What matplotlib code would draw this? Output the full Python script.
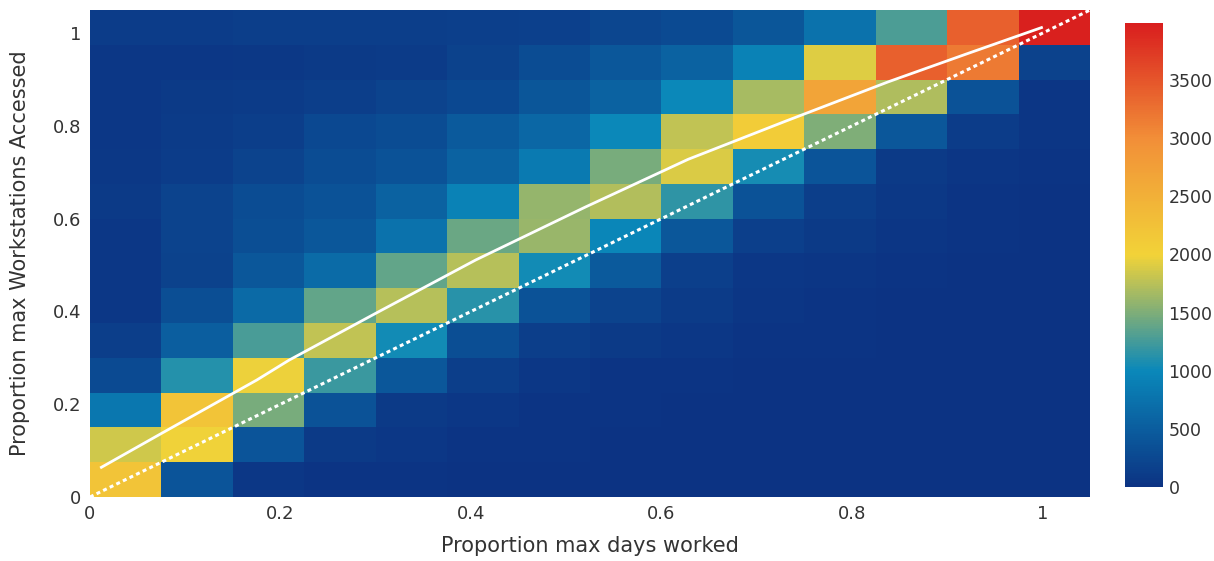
import numpy as np
import matplotlib.pyplot as plt
from matplotlib.colors import LinearSegmentedColormap

# bin edges (14 x 14 bins of width 0.075)
x_edges = np.arange(15) * 0.075
y_edges = np.arange(15) * 0.075

# counts per cell, rows from bottom (y bin 0) to top, columns x bin 0..13
row00 = [2215, 400, 60, 30, 20, 15, 10, 10, 10, 10, 10, 10, 10, 10]
row01 = [1849, 1980, 400, 80, 50, 30, 20, 15, 10, 10, 10, 10, 10, 10]
row02 = [810, 2215, 1468, 364, 82, 50, 30, 20, 15, 10, 10, 10, 10, 10]
row03 = [270, 1110, 1977, 1203, 434, 130, 60, 30, 20, 15, 10, 10, 10, 10]
row04 = [130, 505, 1275, 1780, 1040, 317, 130, 80, 50, 30, 20, 15, 10, 10]
row05 = [60, 317, 646, 1378, 1745, 1126, 364, 200, 100, 40, 25, 15, 10, 10]
row06 = [60, 176, 434, 669, 1378, 1745, 1040, 458, 150, 60, 40, 20, 15, 10]
row07 = [60, 200, 320, 434, 739, 1411, 1620, 974, 434, 150, 80, 40, 20, 10]
row08 = [80, 200, 300, 364, 551, 927, 1600, 1728, 1160, 364, 130, 70, 30, 15]
row09 = [70, 110, 200, 300, 364, 551, 833, 1468, 1900, 1057, 400, 90, 40, 20]
row10 = [60, 100, 140, 250, 300, 458, 622, 1000, 1780, 2098, 1502, 434, 120, 40]
row11 = [60, 80, 100, 130, 200, 260, 420, 551, 1000, 1677, 2684, 1711, 364, 40]
row12 = [50, 60, 70, 80, 100, 180, 300, 434, 551, 927, 1917, 3406, 3177, 180]
row13 = [110, 120, 130, 130, 140, 150, 170, 230, 280, 420, 739, 1283, 3406, 3973]
counts = np.array([row00, row01, row02, row03, row04, row05, row06,
                   row07, row08, row09, row10, row11, row12, row13])

# fitted trend line
fit_x = [0.012, 0.075, 0.175, 0.209, 0.3, 0.405, 0.52, 0.628, 0.73, 0.838, 0.92, 0.999]
fit_y = [0.064, 0.137, 0.252, 0.295, 0.396, 0.511, 0.625, 0.728, 0.81, 0.895, 0.955, 1.012]

# identity line
diag = [0, 1.05]

ticks = [0, 0.2, 0.4, 0.6, 0.8, 1]
tick_labels = ['0', '0.2', '0.4', '0.6', '0.8', '1']
cbar_ticks = [0, 500, 1000, 1500, 2000, 2500, 3000, 3500]
zmax = 3990

portland = LinearSegmentedColormap.from_list('portland', [
    (0.0, (12/255, 51/255, 131/255)),
    (0.25, (10/255, 136/255, 186/255)),
    (0.5, (242/255, 211/255, 56/255)),
    (0.75, (242/255, 143/255, 56/255)),
    (1.0, (217/255, 30/255, 30/255)),
])

txt = '#333333'
plt.rcParams['font.family'] = ['DejaVu Sans']

fig = plt.figure(figsize=(12.14, 5.61), dpi=100)
ax = fig.add_axes([0.0741, 0.1141, 0.8238, 0.8681])
mesh = ax.pcolormesh(x_edges, y_edges, counts, cmap=portland, vmin=0, vmax=zmax)

ax.plot(fit_x, fit_y, color='white', lw=2)
ax.plot(diag, diag, color='white', lw=2.2, linestyle=(0, (1.3, 1.1)))

ax.set_xlim(0, 1.05)
ax.set_ylim(0, 1.05)
ax.set_xticks(ticks, tick_labels)
ax.set_yticks(ticks, tick_labels)
ax.tick_params(length=0, labelsize=13, colors=txt, pad=6)
for s in ax.spines.values():
    s.set_visible(False)
ax.set_xlabel('Proportion max days worked', fontsize=15, color=txt, labelpad=9)
ax.set_ylabel('Proportion max Workstations Accessed', fontsize=15, color=txt, labelpad=17)

cax = fig.add_axes([0.9267, 0.1319, 0.0313, 0.8271])
cb = fig.colorbar(mesh, cax=cax, ticks=cbar_ticks)
cb.outline.set_visible(False)
cax.tick_params(length=0, labelsize=12.5, colors=txt, pad=4)

fig.savefig('out.png', dpi=100)
